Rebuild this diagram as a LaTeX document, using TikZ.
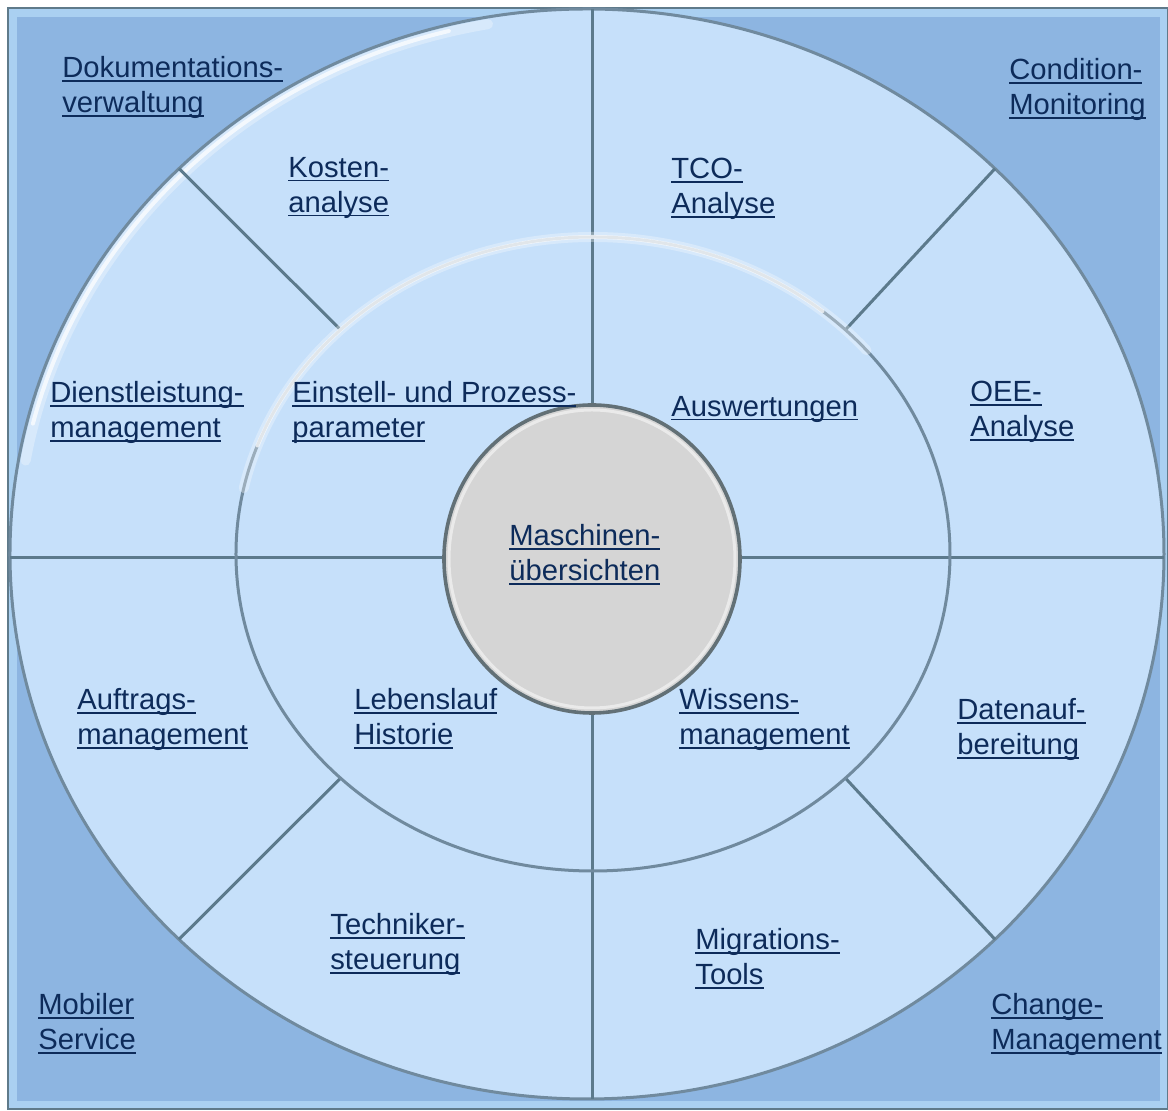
\documentclass[tikz,border=0pt]{standalone}
\usepackage{fontspec}
\setmainfont{Liberation Sans}
\usetikzlibrary{calc}
\definecolor{frameblue}{RGB}{141,181,225}
\definecolor{framelight}{RGB}{170,208,241}
\definecolor{framerim}{RGB}{95,122,138}
\definecolor{ringblue}{RGB}{198,224,250}
\definecolor{rimline}{RGB}{112,138,158}
\definecolor{divcol}{RGB}{92,122,140}
\definecolor{txtblue}{RGB}{13,43,90}
\definecolor{discgray}{RGB}{213,213,213}
\definecolor{discrim}{RGB}{98,112,118}
\newsavebox{\ulbox}
\newcommand{\ulbar}[1]{\sbox{\ulbox}{#1}\rlap{\rule[-2pt]{\wd\ulbox}{0.9pt}}\usebox{\ulbox}}
\newcommand{\twoline}[2]{\ulbar{#1}\\\ulbar{#2}}
\begin{document}
\begin{tikzpicture}[x=0.5pt,y=0.5pt,
	lbl/.style={anchor=north west,inner sep=0pt,align=left,text=txtblue,font=\fontsize{14.6}{17.5}\selectfont},
	divline/.style={draw=divcol,line width=1.5pt},
	hiwide/.style={draw=white,line width=5pt,line cap=round,opacity=0.3},
	hilite/.style={draw=white,line width=2pt,line cap=round,opacity=0.7}]
			\useasboundingbox (-593,556) rectangle (575,-555);
			\fill[white] (-593,556) rectangle (575,-555);
			\draw[fill=framelight,draw=framerim,line width=1pt] (-585,548) rectangle (575,-553);
			\fill[frameblue] (-576,539) rectangle (567,-545);
			\coordinate (oc) at (-6,2);
			\coordinate (ic) at (0,2);
			\coordinate (cc) at (-1,-3);
			\fill[ringblue] (oc) ellipse [x radius=577,y radius=545];
			\draw[draw=rimline,line width=1.5pt] (oc) ellipse [x radius=577,y radius=545];
			\draw[hiwide] ($(oc)+(100:570 and 538)$) arc[start angle=100,end angle=170,x radius=570,y radius=538];
			\draw[hilite] ($(oc)+(104:571 and 539)$) arc[start angle=104,end angle=166,x radius=571,y radius=539];
			\draw[divline] (0,547) -- (0,151);
			\draw[divline] (0,-157) -- (0,-543);
			\draw[divline] (-583,-2) -- (-149,-2);
			\draw[divline] (147,-2) -- (571,-2);
			\foreach \a in {45,135,225,315}
				\draw[divline] ($(ic)+(\a:357 and 317)$) -- ($(oc)+(\a:577 and 545)$);
			\draw[draw=rimline,line width=1.5pt] (ic) ellipse [x radius=357,y radius=317];
			\draw[hiwide] ($(ic)+(40:357 and 317)$) arc[start angle=40,end angle=168,x radius=357,y radius=317];
			\draw[hilite] ($(ic)+(50:357 and 317)$) arc[start angle=50,end angle=160,x radius=357,y radius=317];
			\draw[fill=discgray,draw=discrim,line width=1.8pt] (cc) ellipse [x radius=148,y radius=154];
			\draw[draw=white,line width=1.5pt,opacity=0.5] (cc) ellipse [x radius=143,y radius=149];
			\node[lbl] (doku) at (-531,500) {\twoline{Dokumentations-}{verwaltung}};
			\node[lbl] (cond) at (416,498) {\twoline{Condition-}{Monitoring}};
			\node[lbl] (kosten) at (-305,399) {\twoline{Kosten-}{analyse}};
			\node[lbl] (tco) at (78,398) {\twoline{TCO-}{Analyse}};
			\node[lbl] (dienst) at (-543,175) {\twoline{Dienstleistung-}{management}};
			\node[lbl] (einst) at (-301,175) {\twoline{Einstell- und Prozess-}{parameter}};
			\node[lbl] (ausw) at (78,160) {\ulbar{Auswertungen}};
			\node[lbl] (oee) at (377,175) {\twoline{OEE-}{Analyse}};
			\node[lbl] (masch) at (-84,32) {\twoline{Maschinen-}{übersichten}};
			\node[lbl] (auftr) at (-516,-132) {\twoline{Auftrags-}{management}};
			\node[lbl] (leben) at (-239,-132) {\twoline{Lebenslauf}{Historie}};
			\node[lbl] (wissen) at (86,-132) {\twoline{Wissens-}{management}};
			\node[lbl] (daten) at (364,-142) {\twoline{Datenauf-}{bereitung}};
			\node[lbl] (techn) at (-263,-357) {\twoline{Techniker-}{steuerung}};
			\node[lbl] (migr) at (102,-372) {\twoline{Migrations-}{Tools}};
			\node[lbl] (mobil) at (-555,-437) {\twoline{Mobiler}{Service}};
			\node[lbl] (change) at (398,-437) {\twoline{Change-}{Management}};
\end{tikzpicture}
\end{document}
